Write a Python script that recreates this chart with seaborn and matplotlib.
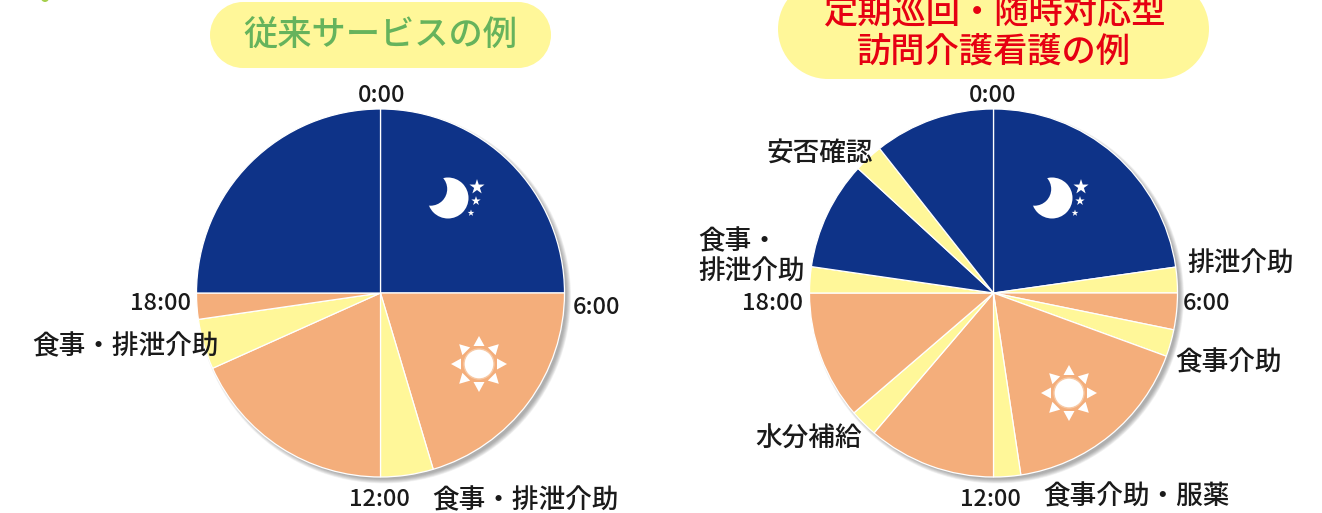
import numpy as np
import matplotlib
matplotlib.use("Agg")
import matplotlib.pyplot as plt
from matplotlib.patches import Circle, Rectangle, Polygon
import seaborn as sns

# Hours of the day per slice, starting at 0:00 and going clockwise
LEFT_HOURS = [6.0, 4.89, 1.11, 4.39, 1.06, 0.55, 6.0]
LEFT_KINDS = ["night", "day", "care", "day", "care", "day", "night"]
RIGHT_HOURS = [5.46, 0.54, 0.77, 0.57, 4.09, 0.57, 2.70, 0.59, 2.71, 0.55, 2.29, 0.61, 2.55]
RIGHT_KINDS = ["night", "care", "day", "care", "day", "care", "day", "care", "day",
               "care", "night", "care", "night"]

LEFT_TITLE = "従来サービスの例"
RIGHT_TITLE = "定期巡回・随時対応型\n訪問介護看護の例"
TIME_LABELS = ["0:00", "6:00", "12:00", "18:00"]
LEFT_CARE = ["食事・排泄介助", "食事・排泄介助"]
RIGHT_CARE = ["安否確認", "排泄介助", "食事介助", "水分補給", "食事介助・服薬"]
RIGHT_CARE_TWO_LINES = "食事・\n排泄介助"

COLORS = {"night": "#0e3388", "day": "#f4ae7b", "care": "#fff799"}
TEXT = "#1a1a1a"
W, H = 1322, 513

sns.set_theme(style="white")
plt.rcParams['font.family'] = ['Noto Sans CJK JP', 'DejaVu Sans']


def Y(py):
    # picture rows run downwards, the axes run upwards
    return H - py


def draw_pie(ax, hours, kinds, cx, cy, r):
    for i in range(10):
        ax.add_patch(Circle((cx + 3.5, Y(cy + 3.5)), r + 3 - i * 0.5,
                            color="#555555", alpha=0.06, lw=0, zorder=1))
    wedges, _ = ax.pie(hours, colors=[COLORS[k] for k in kinds], center=(cx, Y(cy)), radius=r,
                       startangle=90, counterclock=False,
                       wedgeprops={"edgecolor": "white", "linewidth": 0.9})
    for w in wedges:
        w.set_zorder(2)


def draw_moon(ax, cx, cy):
    ax.add_patch(Circle((cx, Y(cy)), 20.5, color="white", lw=0, zorder=3))
    ax.add_patch(Circle((cx - 17.5, Y(cy - 9)), 16.7, color=COLORS["night"], lw=0, zorder=3))
    ax.scatter([cx + 29, cx + 28, cx + 23], [Y(cy - 11), Y(cy + 3), Y(cy + 15)],
               s=[130, 50, 26], marker="*", color="white", lw=0, zorder=4)


def draw_sun(ax, cx, cy):
    ax.add_patch(Circle((cx, Y(cy)), 15, facecolor="white", edgecolor="#f7c9a5", lw=1, zorder=3))
    for a in np.arange(0, 360, 45):
        t = np.radians(a)
        d = np.array([np.cos(t), np.sin(t)])
        n = np.array([-d[1], d[0]])
        c = np.array([cx, Y(cy)])
        ax.add_patch(Polygon([c + d * 28, c + d * 18 + n * 5.5, c + d * 18 - n * 5.5],
                             color="white", lw=0, zorder=3))


def draw_pill(ax, left, right, top, bottom):
    r = (bottom - top) / 2
    mid = (top + bottom) / 2
    ax.add_patch(Rectangle((left + r, Y(bottom)), right - left - 2 * r, bottom - top,
                           color=COLORS["care"], lw=0, zorder=5))
    ax.add_patch(Circle((left + r, Y(mid)), r, color=COLORS["care"], lw=0, zorder=5))
    ax.add_patch(Circle((right - r, Y(mid)), r, color=COLORS["care"], lw=0, zorder=5))


def label(ax, x, y, s, size=19.2, **kw):
    ax.text(x, Y(y), s, fontsize=size, color=kw.pop("color", TEXT), ha=kw.pop("ha", "center"),
            va="center", zorder=6, fontweight="medium", **kw)


fig = plt.figure(figsize=(W / 100, H / 100), dpi=100)
ax = fig.add_axes([0, 0, 1, 1])

draw_pie(ax, LEFT_HOURS, LEFT_KINDS, 380.5, 293, 184)
draw_pie(ax, RIGHT_HOURS, RIGHT_KINDS, 993.5, 293, 184)
ax.set_xlim(0, W)
ax.set_ylim(0, H)
ax.set_aspect("equal")
ax.axis("off")

draw_moon(ax, 448, 198)
draw_moon(ax, 1052, 198)
draw_sun(ax, 479, 364)
draw_sun(ax, 1069, 393)

# title pills, the right one runs past the top edge
draw_pill(ax, 210, 551, 2, 68)
draw_pill(ax, 778, 1209, -21, 79)
label(ax, 380.5, 36, LEFT_TITLE, size=24.7, color="#66b35c")
line1, line2 = RIGHT_TITLE.split("\n")
label(ax, 994, 13, line1, size=24.7, color="#e60012")
label(ax, 994, 52, line2, size=24.7, color="#e60012")

# small green mark cut by the top edge
ax.add_patch(Circle((45, Y(-2)), 4, color="#a5cf4c", lw=0, zorder=5))

for (x, y), s in zip([(382, 96), (597, 307), (379, 500), (161, 303)], TIME_LABELS):
    label(ax, x, y, s, size=17)
for (x, y), s in zip([(993, 96), (1206, 303), (990, 500), (773, 303)], TIME_LABELS):
    label(ax, x, y, s, size=17)

for (x, y), s in zip([(125.5, 347), (525.5, 501)], LEFT_CARE):
    label(ax, x, y, s)
for (x, y), s in zip([(820, 153), (1241, 263), (1229, 363), (809, 439), (1136.5, 497)], RIGHT_CARE):
    label(ax, x, y, s)
first, second = RIGHT_CARE_TWO_LINES.split("\n")
label(ax, 698, 242, first, ha="left")
label(ax, 698, 271, second, ha="left")

fig.savefig("out.png", dpi=100)
plt.close(fig)
